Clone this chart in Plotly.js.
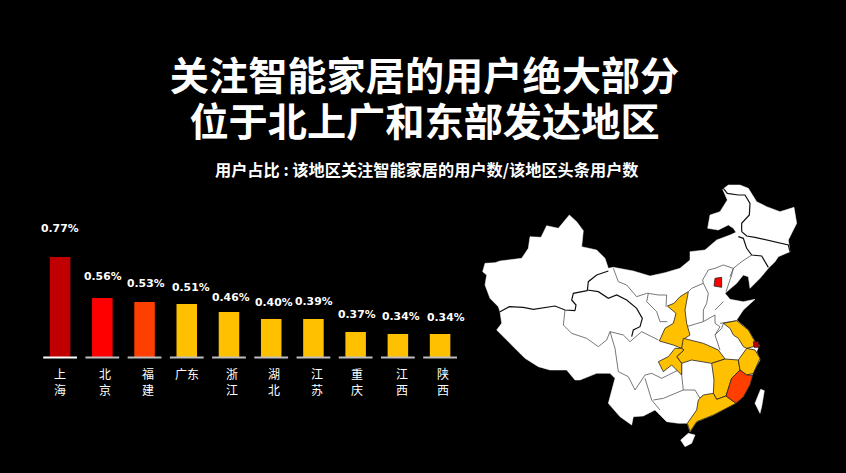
<!DOCTYPE html>
<html><head><meta charset="utf-8">
<script src="https://cdn.plot.ly/plotly-3.0.1.min.js"></script>
<style>html,body{margin:0;padding:0;background:#000;overflow:hidden}</style>
</head><body><div id="chart" style="width:846px;height:473px"></div>
<script>
const titleLines=['关注智能家居的用户绝大部分','位于北上广和东部发达地区'];
const subtitle='用户占比 : 该地区关注智能家居的用户数/该地区头条用户数';
const categories=['上海','北京','福建','广东','浙江','湖北','江苏','重庆','江西','陕西'];
const valueLabels=['0.77%','0.56%','0.53%','0.51%','0.46%','0.40%','0.39%','0.37%','0.34%','0.34%'];
// bar lengths as drawn in the picture (the drawn bars are not proportional to their labels)
const barLengths=[100,59,55,53,45,38,38,25,23,23];
const barColors=['#C00000','#FF0000','#FF3F00','#FFC000','#FFC000','#FFC000','#FFC000','#FFC000','#FFC000','#FFC000'];
const baseColors=['#FFFFFF','#BFBFBF','#BFBFBF','#BFBFBF','#BFBFBF','#BFBFBF','#BFBFBF','#BFBFBF','#BFBFBF','#BFBFBF'];
const labelHeights=[128,81,74,70,60,55,56,43,41,40];
const labelShift=[0,1,1,4,2,3,1,1,3,6];
const tickShift=[0,3,3,0,3,3,4,1,4,3];
const tickLabels=['上<br>海','北<br>京','福<br>建','广东','浙<br>江','湖<br>北','江<br>苏','重<br>庆','江<br>西','陕<br>西'];

// map plane: outlines
const mainland=[[38,290],[45,265],[75,263],[90,258],[155,250],[175,220],[180,185],[213,187],[230,152],[265,160],[298,120],[320,140],[340,167],[335,215],[380,225],[405,250],[415,280],[430,277],[490,288],[540,303],[585,293],[630,280],[660,255],[660,230],[705,225],[740,195],[780,180],[798,172],[790,160],[775,150],[745,165],[713,160],[720,120],[750,110],[772,75],[758,43],[775,30],[810,30],[835,40],[860,80],[890,95],[930,110],[972,97],[980,145],[955,195],[960,230],[925,245],[915,260],[895,280],[870,310],[840,340],[835,305],[820,300],[800,325],[765,355],[780,373],[820,380],[855,373],[820,405],[800,435],[835,465],[855,500],[868,510],[860,530],[870,555],[850,590],[840,625],[820,665],[795,685],[730,720],[680,740],[660,770],[652,745],[640,745],[625,745],[590,740],[555,705],[520,723],[490,725],[485,750],[450,725],[415,685],[425,650],[435,610],[420,595],[380,595],[330,615],[315,615],[290,585],[240,585],[205,575],[165,550],[130,515],[80,465],[95,445],[90,410],[85,395],[60,370],[45,330],[50,300]];
const hainan=[[632,795],[655,775],[675,780],[665,805],[645,815]];
const taiwan=[[872,643],[883,647],[875,695],[870,715],[855,685]];
const shaanxi=[[655,350],[630,365],[612,385],[592,393],[618,415],[610,445],[585,460],[568,498],[610,510],[635,520],[645,490],[660,480],[650,445],[645,405]];
const hubei=[[640,490],[700,505],[745,525],[765,552],[725,565],[695,560],[665,555],[635,565],[620,545],[642,525],[635,520]];
const chongqing=[[615,520],[635,520],[642,525],[620,545],[635,565],[635,600],[605,570],[580,590],[565,560],[595,545]];
const jiangxi=[[725,565],[765,552],[805,555],[810,585],[785,610],[768,663],[740,673],[730,655],[732,615]];
const zhejiang=[[830,520],[855,525],[870,550],[850,595],[830,600],[810,585],[805,555]];
const jiangsu=[[760,445],[800,437],[835,465],[855,500],[850,515],[830,520],[820,515],[805,490],[790,480],[780,460]];
const guangdong=[[700,660],[730,655],[740,673],[768,663],[798,685],[730,720],[680,740],[660,770],[652,745],[680,705],[685,675]];
const fujian=[[810,585],[830,600],[848,600],[840,630],[820,665],[798,685],[768,663],[785,610]];
const beijing=[[735,310],[755,307],[755,337],[732,333]];
const shanghai=[[850,500],[865,500],[868,517],[852,517]];

const heavyBorders=[
 [[90,410],[118,395],[160,397],[190,403],[255,393],[285,405],[315,407]],
 [[315,407],[318,390],[305,375],[310,355],[352,347]],
 [[352,347],[355,320],[380,300],[415,288]],
 [[352,345],[385,350],[415,370],[440,360],[470,375],[500,400],[517,430],[510,455],[490,465],[485,485]],
 [[760,40],[772,55],[805,60],[825,60],[840,85],[838,120],[815,145],[815,170]],
 [[815,170],[830,183],[855,187],[880,193],[910,200],[935,205],[955,210],[960,230]],
 [[805,185],[820,190],[830,220],[845,240],[875,243],[895,277]]
];
const thinBorders=[
 [[285,405],[280,450],[305,475],[350,490],[385,515],[410,495],[420,470]],
 [[420,470],[435,520],[445,590]],
 [[445,590],[475,605],[495,645],[525,600],[545,595],[575,610],[595,600],[625,585]],
 [[420,470],[460,480],[480,500],[515,470],[565,495]],
 [[525,610],[535,640],[545,675],[570,705]],
 [[430,280],[445,320],[470,330],[500,365],[530,355],[535,355],[530,380],[560,410],[570,440],[592,440]],
 [[535,355],[565,360],[590,360],[588,395]],
 [[845,240],[815,260],[790,280],[780,305]],
 [[790,280],[760,270],[735,280],[715,285],[698,315],[700,325]],
 [[790,280],[785,300],[768,350]],
 [[700,325],[665,340],[655,350]],
 [[700,325],[715,355],[710,385],[700,405],[700,440]],
 [[650,455],[700,440],[735,420]],
 [[735,405],[760,380]],
 [[735,420],[735,445],[750,455],[735,480],[750,525]],
 [[735,480],[755,460],[760,445]],
 [[750,445],[800,437]],
 [[635,565],[635,600],[640,645],[675,645],[690,670],[700,660]],
 [[550,675],[580,670],[640,645]]
];

const whiteRegions=[mainland,hainan,taiwan];
const amberRegions=[shaanxi,hubei,chongqing,jiangxi,zhejiang,jiangsu,guangdong];
const accentRegions=[[fujian,'#FF3F00'],[beijing,'#FF0000'],[shanghai,'#C00000']];

function region(pts,fill,stroke,w){
  const closed=pts.concat([pts[0]]);
  return {type:'scatter',mode:'lines',x:closed.map(p=>p[0]),y:closed.map(p=>p[1]),xaxis:'x2',yaxis:'y2',
    fill:'toself',fillcolor:fill,line:{color:stroke,width:w},hoverinfo:'skip',showlegend:false};
}
function border(pts,stroke,w){
  return {type:'scatter',mode:'lines',x:pts.map(p=>p[0]),y:pts.map(p=>p[1]),xaxis:'x2',yaxis:'y2',
    line:{color:stroke,width:w},hoverinfo:'skip',showlegend:false};
}
const traces=[{type:'bar',x:categories,y:barLengths,width:0.486,marker:{color:barColors,line:{width:0}},showlegend:false}];
categories.forEach((c,i)=>{
  traces.push({type:'bar',x:[c],y:[2],base:[-1.6],width:0.8,marker:{color:baseColors[i],line:{width:0}},showlegend:false});
});
whiteRegions.forEach(r=>traces.push(region(r,'#FFFFFF','#FFFFFF',0.5)));
thinBorders.forEach(b=>traces.push(border(b,'#555555',0.8)));
heavyBorders.forEach(b=>traces.push(border(b,'#111111',1.2)));
amberRegions.forEach(r=>traces.push(region(r,'#FFC000','#222222',0.8)));
accentRegions.forEach(r=>traces.push(region(r[0],r[1],'#222222',0.8)));

const cjk='"Noto Sans CJK SC","Noto Sans CJK JP",sans-serif';
const annotations=[];
annotations.push({xref:'paper',yref:'paper',x:427/846,y:1-169/473,text:subtitle,showarrow:false,
  xanchor:'center',yanchor:'middle',font:{family:cjk,size:16.2,color:'#FFFFFF',weight:700}});
categories.forEach((c,i)=>{
  annotations.push({x:c,y:labelHeights[i],xref:'x',yref:'y',xshift:labelShift[i],text:valueLabels[i],showarrow:false,
    xanchor:'center',yanchor:'middle',font:{family:'"DejaVu Sans",sans-serif',size:10.8,color:'#FFFFFF',weight:700}});
  annotations.push({x:c,y:-6,xref:'x',yref:'y',xshift:tickShift[i],text:tickLabels[i],showarrow:false,
    xanchor:'center',yanchor:'top',font:{family:cjk,size:12,color:'#FFFFFF'}});
});

const layout={
  width:846,height:473,autosize:false,margin:{l:0,r:0,t:0,b:0,pad:0},
  paper_bgcolor:'#000000',plot_bgcolor:'#000000',showlegend:false,barmode:'overlay',
  title:{text:titleLines.map(t=>'<span style="font-size:39.2px">'+t+'</span>').join('<br>'),
    x:424.5/846,xanchor:'center',y:1-89.5/473,yanchor:'middle',
    font:{family:cjk,size:36,color:'#FFFFFF',weight:700}},
  xaxis:{domain:[39/846,461.2/846],range:[-0.5,9.5],type:'category',categoryorder:'array',categoryarray:categories,
    visible:false,fixedrange:true},
  yaxis:{domain:[1-400/473,1-220/473],range:[-43,137],visible:false,fixedrange:true},
  xaxis2:{domain:[470/846,810/846],range:[0,1020],visible:false,fixedrange:true,anchor:'y2'},
  yaxis2:{domain:[1-455/473,1-175/473],range:[840,0],visible:false,fixedrange:true,anchor:'x2'},
  annotations:annotations
};
Plotly.newPlot('chart',traces,layout,{displayModeBar:false,staticPlot:true});
</script></body></html>
